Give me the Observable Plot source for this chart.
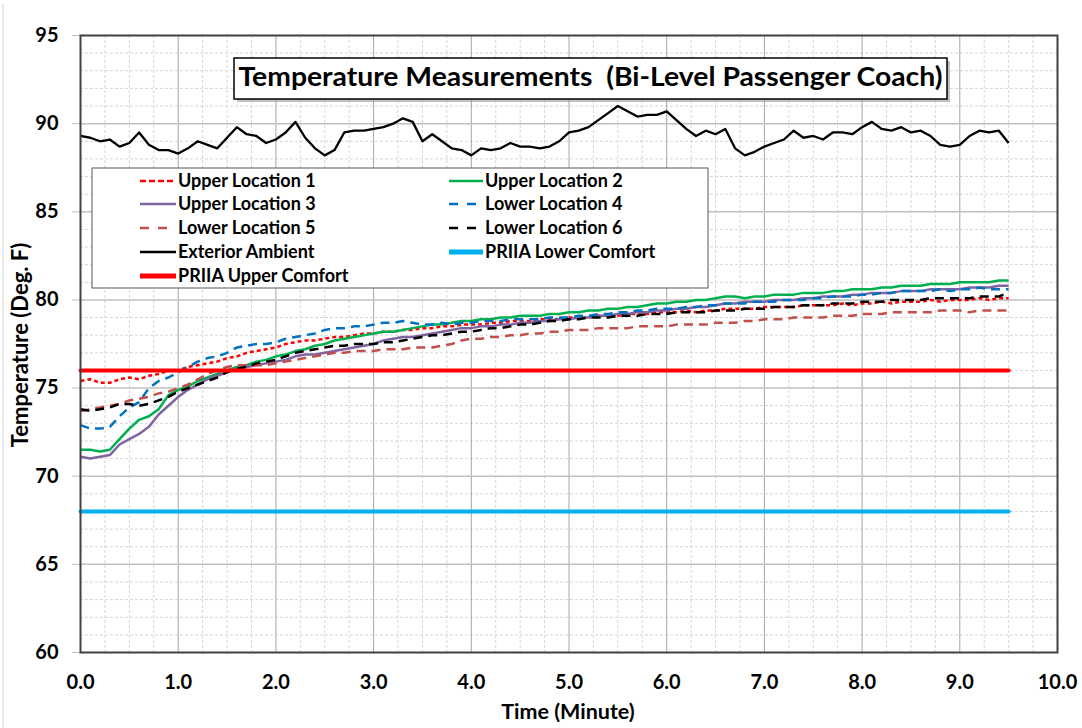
<!DOCTYPE html>
<html>
<head>
<meta charset="utf-8">
<script src="https://cdn.jsdelivr.net/npm/d3@7"></script>
<script src="https://cdn.jsdelivr.net/npm/@observablehq/plot@0.6"></script>
<style>
  html, body { margin: 0; padding: 0; background: white; }
  #chart svg { display: block; }
</style>
</head>
<body>
<div id="chart"></div>
<script>
// ---------- data ----------
const time = [0.0,0.1,0.2,0.3,0.4,0.5,0.6,0.7,0.8,0.9,1.0,1.1,1.2,1.3,1.4,1.5,1.6,1.7,1.8,1.9,
  2.0,2.1,2.2,2.3,2.4,2.5,2.6,2.7,2.8,2.9,3.0,3.1,3.2,3.3,3.4,3.5,3.6,3.7,3.8,3.9,
  4.0,4.1,4.2,4.3,4.4,4.5,4.6,4.7,4.8,4.9,5.0,5.1,5.2,5.3,5.4,5.5,5.6,5.7,5.8,5.9,
  6.0,6.1,6.2,6.3,6.4,6.5,6.6,6.7,6.8,6.9,7.0,7.1,7.2,7.3,7.4,7.5,7.6,7.7,7.8,7.9,
  8.0,8.1,8.2,8.3,8.4,8.5,8.6,8.7,8.8,8.9,9.0,9.1,9.2,9.3,9.4,9.5];

const upper1 = [75.4,75.5,75.3,75.3,75.5,75.6,75.5,75.7,75.8,76.0,76.0,76.2,76.3,76.4,76.5,76.7,76.8,77.0,77.1,77.2,
  77.3,77.5,77.6,77.7,77.7,77.8,77.9,77.9,78.0,78.1,78.1,78.2,78.2,78.3,78.3,78.4,78.4,78.5,78.5,78.6,
  78.6,78.6,78.7,78.7,78.8,78.8,78.8,78.9,78.9,78.9,79.0,79.0,79.0,79.1,79.1,79.1,79.2,79.2,79.2,79.3,
  79.3,79.3,79.4,79.3,79.4,79.4,79.5,79.5,79.5,79.5,79.6,79.6,79.6,79.6,79.7,79.7,79.7,79.7,79.8,79.7,
  79.8,79.8,79.9,79.8,79.9,79.9,79.9,80.0,79.9,80.0,80.0,80.0,80.1,80.0,80.1,80.1];

const upper2 = [71.5,71.5,71.4,71.5,72.1,72.7,73.2,73.4,73.8,74.6,74.9,75.1,75.4,75.6,75.8,76.0,76.2,76.3,76.5,76.6,
  76.8,76.9,77.1,77.2,77.4,77.5,77.7,77.8,77.9,78.0,78.1,78.2,78.2,78.3,78.4,78.5,78.6,78.6,78.7,78.8,
  78.8,78.9,78.9,79.0,79.0,79.1,79.1,79.1,79.2,79.2,79.3,79.3,79.4,79.4,79.5,79.5,79.6,79.6,79.7,79.8,
  79.8,79.9,79.9,80.0,80.0,80.1,80.2,80.2,80.1,80.2,80.2,80.3,80.3,80.3,80.4,80.4,80.4,80.5,80.5,80.6,
  80.6,80.6,80.7,80.7,80.8,80.8,80.8,80.9,80.9,80.9,81.0,81.0,81.0,81.0,81.1,81.1];

const upper3 = [71.1,71.0,71.1,71.2,71.8,72.1,72.4,72.8,73.5,74.0,74.5,74.9,75.2,75.5,75.7,75.9,76.1,76.2,76.3,76.4,
  76.5,76.6,76.8,76.9,76.9,77.0,77.1,77.2,77.3,77.4,77.5,77.7,77.8,77.9,77.9,78.0,78.1,78.2,78.3,78.4,
  78.4,78.5,78.5,78.6,78.6,78.7,78.7,78.8,78.8,78.9,78.9,79.0,79.0,79.1,79.1,79.2,79.2,79.3,79.3,79.4,
  79.4,79.5,79.5,79.6,79.6,79.7,79.8,79.8,79.9,79.9,79.9,80.0,80.0,80.0,80.1,80.1,80.2,80.2,80.2,80.3,
  80.3,80.4,80.4,80.4,80.5,80.5,80.5,80.6,80.6,80.6,80.6,80.7,80.7,80.7,80.8,80.8];

const lower4 = [72.9,72.7,72.7,72.8,73.4,73.9,74.2,75.0,75.4,75.6,75.9,76.2,76.5,76.7,76.8,77.0,77.3,77.4,77.5,77.5,
  77.6,77.8,77.9,78.0,78.1,78.3,78.4,78.4,78.5,78.5,78.6,78.7,78.7,78.8,78.7,78.6,78.6,78.7,78.6,78.7,
  78.7,78.8,78.8,78.8,78.9,78.9,78.9,78.9,79.0,79.0,79.0,79.1,79.1,79.2,79.2,79.3,79.3,79.4,79.4,79.5,
  79.5,79.5,79.6,79.6,79.7,79.7,79.8,79.8,79.8,79.9,79.9,79.9,80.0,80.0,80.0,80.1,80.1,80.2,80.2,80.2,
  80.3,80.3,80.4,80.4,80.5,80.5,80.5,80.5,80.6,80.5,80.6,80.6,80.7,80.6,80.6,80.6];

const lower5 = [73.7,73.8,73.9,74.0,74.1,74.3,74.4,74.5,74.7,74.8,75.0,75.2,75.5,75.8,76.0,76.2,76.3,76.3,76.3,76.3,
  76.4,76.5,76.6,76.7,76.8,76.9,77.0,77.0,77.1,77.1,77.1,77.2,77.2,77.2,77.3,77.3,77.3,77.4,77.5,77.7,
  77.8,77.8,77.9,77.9,78.0,78.0,78.1,78.1,78.2,78.2,78.3,78.3,78.3,78.4,78.4,78.4,78.4,78.5,78.5,78.5,
  78.5,78.6,78.6,78.6,78.6,78.7,78.7,78.7,78.8,78.8,78.9,78.9,78.9,79.0,79.0,79.0,79.0,79.1,79.1,79.1,
  79.2,79.2,79.2,79.3,79.3,79.3,79.3,79.3,79.4,79.4,79.4,79.3,79.4,79.4,79.4,79.4];

const lower6 = [73.8,73.7,73.8,73.9,74.1,74.1,74.0,74.1,74.3,74.5,74.8,75.0,75.2,75.4,75.6,75.9,76.1,76.2,76.4,76.5,
  76.6,76.8,77.0,77.1,77.2,77.3,77.4,77.4,77.5,77.5,77.5,77.6,77.6,77.7,77.8,77.9,78.0,78.0,78.1,78.2,
  78.2,78.3,78.4,78.4,78.5,78.6,78.6,78.7,78.8,78.8,78.9,78.9,79.0,79.0,79.0,79.1,79.1,79.1,79.2,79.2,
  79.2,79.3,79.3,79.3,79.3,79.4,79.4,79.4,79.5,79.5,79.5,79.6,79.6,79.6,79.7,79.7,79.7,79.8,79.8,79.8,
  79.9,79.9,79.9,80.0,80.0,80.0,80.0,80.1,80.1,80.1,80.1,80.1,80.2,80.2,80.2,80.4];

const exterior = [89.3,89.2,89.0,89.1,88.7,88.9,89.5,88.8,88.5,88.5,88.3,88.6,89.0,88.8,88.6,89.2,89.8,89.4,89.3,88.9,
  89.1,89.5,90.1,89.2,88.6,88.2,88.5,89.5,89.6,89.6,89.7,89.8,90.0,90.3,90.1,89.0,89.4,89.0,88.6,88.5,
  88.2,88.6,88.5,88.6,88.9,88.7,88.7,88.6,88.7,89.0,89.5,89.6,89.8,90.2,90.6,91.0,90.7,90.4,90.5,90.5,
  90.7,90.2,89.7,89.3,89.6,89.4,89.7,88.6,88.2,88.4,88.7,88.9,89.1,89.6,89.2,89.3,89.1,89.5,89.5,89.4,
  89.8,90.1,89.7,89.6,89.8,89.5,89.6,89.3,88.8,88.7,88.8,89.3,89.6,89.5,89.6,88.9];

const comfortLower = 68;
const comfortUpper = 76;

const seriesNames = ["Upper Location 1","Upper Location 2","Upper Location 3","Lower Location 4",
  "Lower Location 5","Lower Location 6","Exterior Ambient","PRIIA Lower Comfort","PRIIA Upper Comfort"];

const xTicks = [0,1,2,3,4,5,6,7,8,9,10];
const yTicks = [60,65,70,75,80,85,90,95];
const xMinor = [0.25,0.5,0.75,1.25,1.5,1.75,2.25,2.5,2.75,3.25,3.5,3.75,4.25,4.5,4.75,5.25,5.5,5.75,
  6.25,6.5,6.75,7.25,7.5,7.75,8.25,8.5,8.75,9.25,9.5,9.75];
const yMinor = [61,62,63,64,66,67,68,69,71,72,73,74,76,77,78,79,81,82,83,84,86,87,88,89,91,92,93,94];

// ---------- styles ----------
const styles = [
  {name: seriesNames[0], values: upper1, stroke: "#ff0000", width: 2.5, dash: "4,3", legendDash: "6,3"},
  {name: seriesNames[1], values: upper2, stroke: "#00b050", width: 2.5, dash: null},
  {name: seriesNames[2], values: upper3, stroke: "#8064a2", width: 2.5, dash: null},
  {name: seriesNames[3], values: lower4, stroke: "#0070c0", width: 2.5, dash: "9,6", legendDash: "9,9"},
  {name: seriesNames[4], values: lower5, stroke: "#c0504d", width: 2.5, dash: "9,6", legendDash: "9,9"},
  {name: seriesNames[5], values: lower6, stroke: "#000000", width: 2.5, dash: "9,6", legendDash: "9,9"},
  {name: seriesNames[6], values: exterior, stroke: "#000000", width: 2.3, dash: null}
];
const comfort = [
  {name: seriesNames[7], value: comfortLower, stroke: "#00b0f0", width: 4},
  {name: seriesNames[8], value: comfortUpper, stroke: "#ff0000", width: 4}
];

const seriesMarks = styles.map(s => Plot.line(s.values, {
  x: (d, i) => time[i], y: d => d,
  stroke: s.stroke, strokeWidth: s.width, strokeDasharray: s.dash, strokeLinejoin: "round", strokeLinecap: "butt"
}));
const comfortMarks = comfort.map(c => Plot.line([time[0], time[time.length - 1]], {
  x: d => d, y: () => c.value, stroke: c.stroke, strokeWidth: c.width, strokeLinecap: "round"
}));

const chart = Plot.plot({
  width: 1082, height: 728,
  marginLeft: 80, marginRight: 25, marginTop: 35, marginBottom: 76,
  style: {fontFamily: "Lato, 'Open Sans', sans-serif", fontWeight: "bold", background: "white", color: "black"},
  x: {domain: [0, 10], label: null},
  y: {domain: [60, 95], label: null},
  marks: [
    Plot.gridX(xMinor, {stroke: "#d6d6d6", strokeOpacity: 1, strokeDasharray: "3,2", strokeWidth: 1}),
    Plot.gridY(yMinor, {stroke: "#d6d6d6", strokeOpacity: 1, strokeDasharray: "3,2", strokeWidth: 1}),
    Plot.gridX(xTicks.slice(1, -1), {stroke: "#a6a6a6", strokeOpacity: 1, strokeWidth: 1}),
    Plot.gridY(yTicks.slice(1, -1), {stroke: "#bfbfbf", strokeOpacity: 1, strokeWidth: 1.5}),
    Plot.axisX({ticks: xTicks, tickFormat: d => d.toFixed(1), tickSize: 0, tickPadding: 22,
      fontSize: 20, fontWeight: "bold", label: null}),
    Plot.axisY({ticks: yTicks, tickSize: 8, tickPadding: 14, stroke: "#bfbfbf",
      fontSize: 20, fontWeight: "bold", label: null}),
    ...seriesMarks,
    ...comfortMarks,
    Plot.frame({stroke: "#404040", strokeWidth: 2})
  ]
});

document.getElementById("chart").appendChild(chart);

// ---------- annotations: title box, legend, axis titles ----------
const svg = d3.select(chart);
const font = "Lato, 'Open Sans', sans-serif";

// faint page border on the left
svg.append("line").attr("x1", 3).attr("x2", 3).attr("y1", 4).attr("y2", 728)
  .attr("stroke", "#d0d0d0").attr("stroke-width", 1);

// axis titles
svg.append("text").attr("x", 568).attr("y", 713).attr("text-anchor", "middle")
  .attr("dominant-baseline", "middle").attr("font-family", font).attr("font-weight", "bold")
  .attr("font-size", 21.5).attr("fill", "black").text("Time (Minute)");
svg.append("text").attr("transform", "translate(22,345) rotate(-90)").attr("text-anchor", "middle")
  .attr("dominant-baseline", "middle").attr("font-family", font).attr("font-weight", "bold")
  .attr("font-size", 22).attr("fill", "black").text("Temperature (Deg. F)");

// title box
const tb = {x: 234, y: 58, w: 713, h: 41};
svg.append("rect").attr("x", tb.x + 3).attr("y", tb.y + 3).attr("width", tb.w).attr("height", tb.h)
  .attr("fill", "#9a9a9a").attr("opacity", 0.6);
svg.append("rect").attr("x", tb.x).attr("y", tb.y).attr("width", tb.w).attr("height", tb.h)
  .attr("fill", "white").attr("stroke", "black").attr("stroke-width", 1.5);
svg.append("text").attr("x", tb.x + tb.w / 2).attr("y", tb.y + tb.h / 2 + 1)
  .attr("text-anchor", "middle").attr("dominant-baseline", "middle")
  .attr("font-family", font).attr("font-weight", "bold").attr("font-size", 26).attr("fill", "black")
  .attr("textLength", 704).attr("lengthAdjust", "spacingAndGlyphs")
  .attr("xml:space", "preserve").style("white-space", "pre")
  .text("Temperature Measurements  (Bi-Level Passenger Coach)");

// legend
const lg = {x: 92, y: 168, w: 616, h: 120};
svg.append("rect").attr("x", lg.x).attr("y", lg.y).attr("width", lg.w).attr("height", lg.h)
  .attr("fill", "white").attr("stroke", "#595959").attr("stroke-width", 1);
const legendItems = [
  ...styles.map(s => ({name: s.name, stroke: s.stroke, width: s.width, dash: s.legendDash || null})),
  ...comfort.map(c => ({name: c.name, stroke: c.stroke, width: c.width + 1, dash: null}))
];
const rowsY = [181, 204, 228, 252, 276];
const cols = [{x1: 140, x2: 176, tx: 178}, {x1: 449, x2: 483, tx: 485}];
legendItems.forEach((it, i) => {
  const r = Math.floor(i / 2), c = i % 2;
  const y = rowsY[r], col = cols[c];
  svg.append("line").attr("x1", col.x1).attr("x2", col.x2).attr("y1", y).attr("y2", y)
    .attr("stroke", it.stroke).attr("stroke-width", it.width)
    .attr("stroke-dasharray", it.dash);
  svg.append("text").attr("x", col.tx).attr("y", y + 1)
    .attr("text-anchor", "start").attr("dominant-baseline", "middle")
    .attr("font-family", font).attr("font-weight", "bold").attr("font-size", 18).attr("fill", "black")
    .text(it.name);
});
</script>
</body>
</html>
